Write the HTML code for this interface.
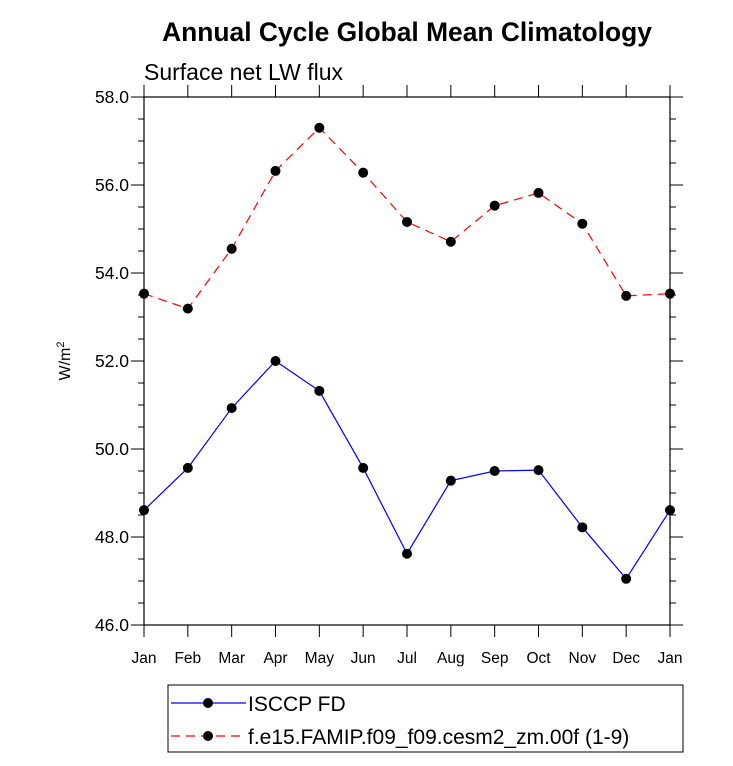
<!DOCTYPE html>
<html><head><meta charset="utf-8"><style>
body{margin:0;background:#fff;font-family:"Liberation Sans",sans-serif}
</style></head><body>
<svg id="chart" width="733" height="761" xmlns="http://www.w3.org/2000/svg" font-family="Liberation Sans, sans-serif">
<text x="407" y="41" text-anchor="middle" font-size="26.4" font-weight="bold">Annual Cycle Global Mean Climatology</text>
<text x="144" y="80" font-size="23">Surface net LW flux</text>
<text transform="translate(70,361) rotate(-90)" text-anchor="middle" font-size="16">W/m<tspan dy="-6" font-size="11">2</tspan></text>
<g id="axes"></g>
<g id="series"></g>
<g>
<rect x="168" y="685" width="515" height="67" fill="none" stroke="#000" stroke-width="1"/>
<line x1="171" y1="703" x2="246" y2="703" stroke="#0000ff" stroke-width="1.2"/>
<circle cx="208" cy="703" r="5" fill="#000"/>
<text x="248" y="711" font-size="21">ISCCP FD</text>
<line x1="171" y1="736" x2="246" y2="736" stroke="#ff0000" stroke-width="1.2" stroke-dasharray="9,6"/>
<circle cx="208" cy="736" r="5" fill="#000"/>
<text x="248" y="744" font-size="21">f.e15.FAMIP.f09_f09.cesm2_zm.00f (1-9)</text>
</g>
</svg>
<script>
const months=["Jan","Feb","Mar","Apr","May","Jun","Jul","Aug","Sep","Oct","Nov","Dec","Jan"];
const isccp=[48.61,49.57,50.93,52.0,51.32,49.57,47.62,49.28,49.5,49.52,48.22,47.05,48.61];
const model=[53.53,53.19,54.55,56.32,57.3,56.28,55.16,54.71,55.53,55.82,55.12,53.48,53.53];
const yTicks=[46,48,50,52,54,56,58];
const X0=144,X1=670,Y0=625,Y1=97,YMIN=46,YMAX=58;
const xs=i=>X0+i*(X1-X0)/(months.length-1);
const ys=v=>Y0-(v-YMIN)*(Y0-Y1)/(YMAX-YMIN);
const NS="http://www.w3.org/2000/svg";
function mk(t,a,p){const e=document.createElementNS(NS,t);for(const k in a)e.setAttribute(k,a[k]);p.appendChild(e);return e;}
const ax=document.getElementById('axes');
const frame=mk('rect',{x:X0,y:Y1,width:X1-X0,height:Y0-Y1,fill:'none',stroke:'#000','stroke-width':1.2},ax);


for(let v=YMIN;v<=YMAX+1e-9;v+=0.5){
  const y=ys(v),maj=Math.abs(v/2-Math.round(v/2))<1e-9,L=maj?13:6;
  mk('line',{x1:X0-L,y1:y,x2:X0,y2:y,stroke:'#000'},ax);
  mk('line',{x1:X1,y1:y,x2:X1+L,y2:y,stroke:'#000'},ax);
}
yTicks.forEach(v=>{
  const t=mk('text',{x:X0-15,y:ys(v)+6,'text-anchor':'end','font-size':17.5},ax);
  t.textContent=v.toFixed(1);
  
  
});
months.forEach((m,i)=>{
  const x=xs(i);
  mk('line',{x1:x,y1:Y0,x2:x,y2:Y0+12,stroke:'#000'},ax);
  mk('line',{x1:x,y1:Y1-12,x2:x,y2:Y1,stroke:'#000'},ax);
  const t=mk('text',{x:x,y:Y0+38,'text-anchor':'middle','font-size':15.5},ax);
  t.textContent=m;
  
  
});
const sg=document.getElementById('series');
function draw(data,color,dash,name){
  const pts=data.map((v,i)=>xs(i)+','+ys(v)).join(' ');
  const pl=mk('polyline',{points:pts,fill:'none',stroke:color,'stroke-width':1.2,'stroke-dasharray':dash},sg);
  
  
  data.forEach((v,i)=>{
    const c=mk('circle',{cx:xs(i),cy:ys(v),r:5,fill:'#000'},sg);
    
    
  });
}
draw(isccp,'#0000ff','none','isccp');
draw(model,'#ff0000','9,6','model');
</script>
</body></html>
